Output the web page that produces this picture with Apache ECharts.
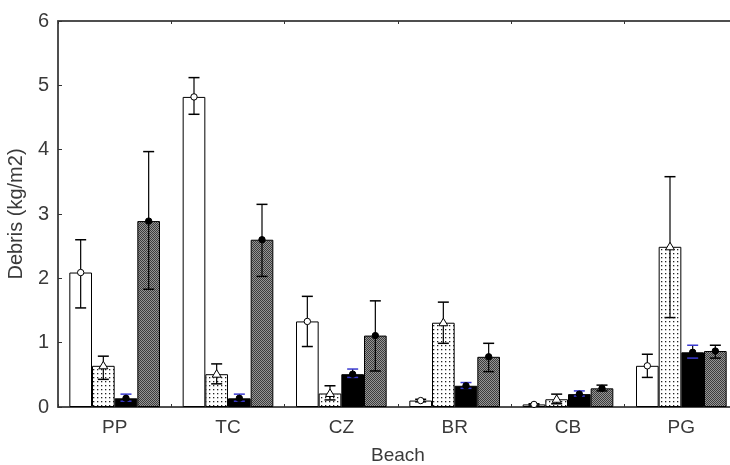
<!DOCTYPE html>
<html>
<head>
<meta charset="utf-8">
<script src="https://cdn.jsdelivr.net/npm/echarts@6/dist/echarts.min.js"></script>
<style>html,body{margin:0;padding:0;background:#fff;}#c{width:730px;height:465px;}</style>
</head>
<body>
<div id="c"></div>
<script>
var categories = ['PP', 'TC', 'CZ', 'BR', 'CB', 'PG'];
var yTicks = [0, 1, 2, 3, 4, 5, 6];

var whiteMean = [2.09, 4.82, 1.33, 0.10, 0.04, 0.64];
var whiteLow  = [1.54, 4.55, 0.94, 0.08, 0.03, 0.46];
var whiteHigh = [2.60, 5.12, 1.72, 0.12, 0.05, 0.82];

var dotMean = [0.64, 0.51, 0.21, 1.31, 0.12, 2.49];
var dotLow  = [0.43, 0.36, 0.11, 0.99, 0.05, 1.39];
var dotHigh = [0.79, 0.67, 0.33, 1.63, 0.20, 3.58];

var blackMean = [0.135, 0.135, 0.51, 0.33, 0.20, 0.85];
var blackLow  = [0.09, 0.09, 0.46, 0.29, 0.17, 0.76];
var blackHigh = [0.20, 0.20, 0.59, 0.38, 0.25, 0.96];

var grayMean = [2.89, 2.60, 1.11, 0.78, 0.29, 0.87];
var grayLow  = [1.83, 2.03, 0.56, 0.55, 0.25, 0.76];
var grayHigh = [3.97, 3.15, 1.65, 0.99, 0.34, 0.96];

function makeDotPattern() {
  var c = document.createElement('canvas');
  c.width = 4; c.height = 4;
  var g = c.getContext('2d');
  g.fillStyle = '#ffffff'; g.fillRect(0, 0, 4, 4);
  g.fillStyle = '#222222'; g.fillRect(1, 1, 1.3, 1.3);
  return c;
}
function makeGrayPattern() {
  var c = document.createElement('canvas');
  c.width = 2; c.height = 2;
  var g = c.getContext('2d');
  g.fillStyle = '#959595'; g.fillRect(0, 0, 2, 2);
  g.fillStyle = '#3c3c3c'; g.fillRect(0, 0, 1, 1); g.fillRect(1, 1, 1, 1);
  return c;
}

var groups = [
  {mean: whiteMean, low: whiteLow, high: whiteHigh, fill: '#ffffff', marker: 'circle', mfill: '#ffffff', cap: '#000'},
  {mean: dotMean, low: dotLow, high: dotHigh, fill: {image: makeDotPattern(), repeat: 'repeat'}, marker: 'triangle', mfill: '#ffffff', cap: '#000'},
  {mean: blackMean, low: blackLow, high: blackHigh, fill: '#000000', marker: 'circle', mfill: '#000000', cap: '#3a3ad0'},
  {mean: grayMean, low: grayLow, high: grayHigh, fill: {image: makeGrayPattern(), repeat: 'repeat'}, marker: 'circle', mfill: '#000000', cap: '#000'}
];

var series = [];
groups.forEach(function (gp, gi) {
  series.push({
    type: 'bar',
    data: gp.mean,
    barGap: '0%',
    barCategoryGap: '20%',
    itemStyle: {color: gp.fill, borderColor: '#000', borderWidth: 1},
    silent: true,
    z: 2
  });
});
groups.forEach(function (gp, gi) {
  var d = categories.map(function (c, i) { return [i, gp.mean[i], gp.low[i], gp.high[i]]; });
  series.push({
    type: 'custom',
    data: d,
    z: 5,
    silent: true,
    renderItem: function (params, api) {
      var i = api.value(0);
      var band = api.size([1, 0])[0];
      var bw = band * 0.8 / 4;
      var off = (gi - 1.5) * bw;
      var pm = api.coord([i, api.value(1)]);
      var pl = api.coord([i, api.value(2)]);
      var ph = api.coord([i, api.value(3)]);
      var x = pm[0] + off;
      var cw = 5.5;
      var children = [
        {type: 'line', shape: {x1: x, y1: ph[1], x2: x, y2: pl[1]}, style: {stroke: '#000', lineWidth: 1.2}},
        {type: 'line', shape: {x1: x - cw, y1: ph[1], x2: x + cw, y2: ph[1]}, style: {stroke: gp.cap, lineWidth: 1.5}},
        {type: 'line', shape: {x1: x - cw, y1: pl[1], x2: x + cw, y2: pl[1]}, style: {stroke: gp.cap, lineWidth: 1.5}}
      ];
      if (gp.marker === 'circle') {
        children.push({type: 'circle', shape: {cx: x, cy: pm[1], r: 3.2}, style: {fill: gp.mfill, stroke: '#000', lineWidth: 1}});
      } else {
        children.push({type: 'polygon', shape: {points: [[x, pm[1] - 4.5], [x - 4.5, pm[1] + 3], [x + 4.5, pm[1] + 3]]}, style: {fill: gp.mfill, stroke: '#000', lineWidth: 1}});
      }
      return {type: 'group', children: children};
    }
  });
});

var chart = echarts.init(document.getElementById('c'), null, {renderer: 'canvas'});
chart.setOption({
  animation: false,
  backgroundColor: '#ffffff',
  grid: {left: 58, top: 21, width: 680, height: 386, containLabel: false, outerBoundsMode: 'none', show: true, borderColor: '#444', borderWidth: 1.5, backgroundColor: 'transparent'},
  xAxis: [{
    type: 'category',
    data: categories,
    position: 'bottom',
    name: 'Beach',
    nameLocation: 'middle',
    nameGap: 39,
    nameTextStyle: {fontFamily: 'Liberation Sans', fontSize: 19, color: '#3a3a3a'},
    axisLine: {show: true, lineStyle: {color: '#444', width: 1.5}},
    axisTick: {show: true, inside: true, length: 3, lineStyle: {color: '#333'}},
    axisLabel: {fontFamily: 'Liberation Sans', fontSize: 19, color: '#3a3a3a', margin: 11}
  }, {
    type: 'category',
    data: categories,
    position: 'top',
    axisLine: {show: true, lineStyle: {color: '#444', width: 1.5}},
    axisTick: {show: true, inside: true, length: 3, lineStyle: {color: '#333'}},
    axisLabel: {show: false}
  }],
  yAxis: {
    type: 'value',
    min: yTicks[0],
    max: yTicks[yTicks.length - 1],
    interval: 1,
    name: 'Debris (kg/m2)',
    nameLocation: 'middle',
    nameGap: 26,
    nameRotate: 90,
    nameTextStyle: {fontFamily: 'Liberation Sans', fontSize: 20, color: '#3a3a3a'},
    axisLine: {show: true, lineStyle: {color: '#444', width: 1.5}},
    axisTick: {show: true, inside: true, length: 4, lineStyle: {color: '#333'}},
    splitLine: {show: false},
    axisLabel: {fontFamily: 'Liberation Sans', fontSize: 20, color: '#3a3a3a', margin: 9}
  },
  series: series
});
</script>
</body>
</html>
